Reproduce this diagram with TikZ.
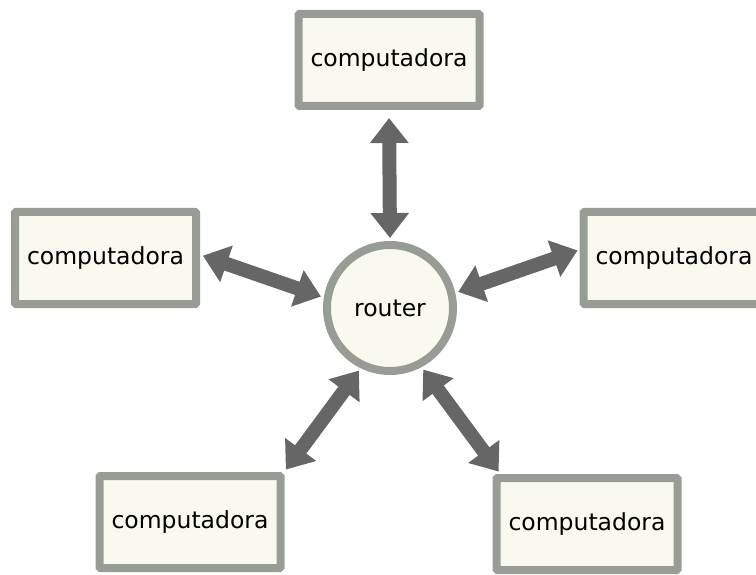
\documentclass[tikz,border=0pt]{standalone}
\usepackage{fontspec}
\setmainfont{DejaVu Sans}
\usetikzlibrary{arrows.meta}
\definecolor{boxline}{HTML}{979D95}
\definecolor{boxfill}{HTML}{F9F9EF}
\definecolor{arrowgray}{HTML}{666666}
\begin{document}
\begin{tikzpicture}[x=1pt,y=-1pt,
  pc/.style={draw=boxline, fill=boxfill, line width=8pt, rectangle,
    rounded corners=1pt, minimum width=181pt, minimum height=92pt,
    inner sep=0pt, font=\fontsize{23.5}{28}\selectfont},
  hub/.style={draw=boxline, fill=boxfill, line width=8pt, circle,
    minimum size=126pt, inner sep=0pt, font=\fontsize{23.5}{28}\selectfont},
  link/.style={draw=arrowgray, line width=14pt,
    {Triangle[width=37pt,length=25pt]}-{Triangle[width=37pt,length=25pt]},
    shorten <=3pt, shorten >=3pt}]
\useasboundingbox (0,0) rectangle (756,575);
\node[hub] (r) at (390,308) {router};
\node[pc] (t) at (389,60) {computadora};
\node[pc] (l) at (105.5,258) {computadora};
\node[pc] (rb) at (674,258) {computadora};
\node[pc] (bl) at (190,522) {computadora};
\node[pc] (br) at (587,524) {computadora};
\draw[link, shorten <=8pt] (t.south) -- (r.north);
\draw[link] (l.2) -- (r.171);
\draw[link, shorten >=2pt] (r.13) -- (rb.175);
\draw[link] (r.244) -- (bl.28);
\draw[link] (r.298) -- (br.150);
\end{tikzpicture}
\end{document}
